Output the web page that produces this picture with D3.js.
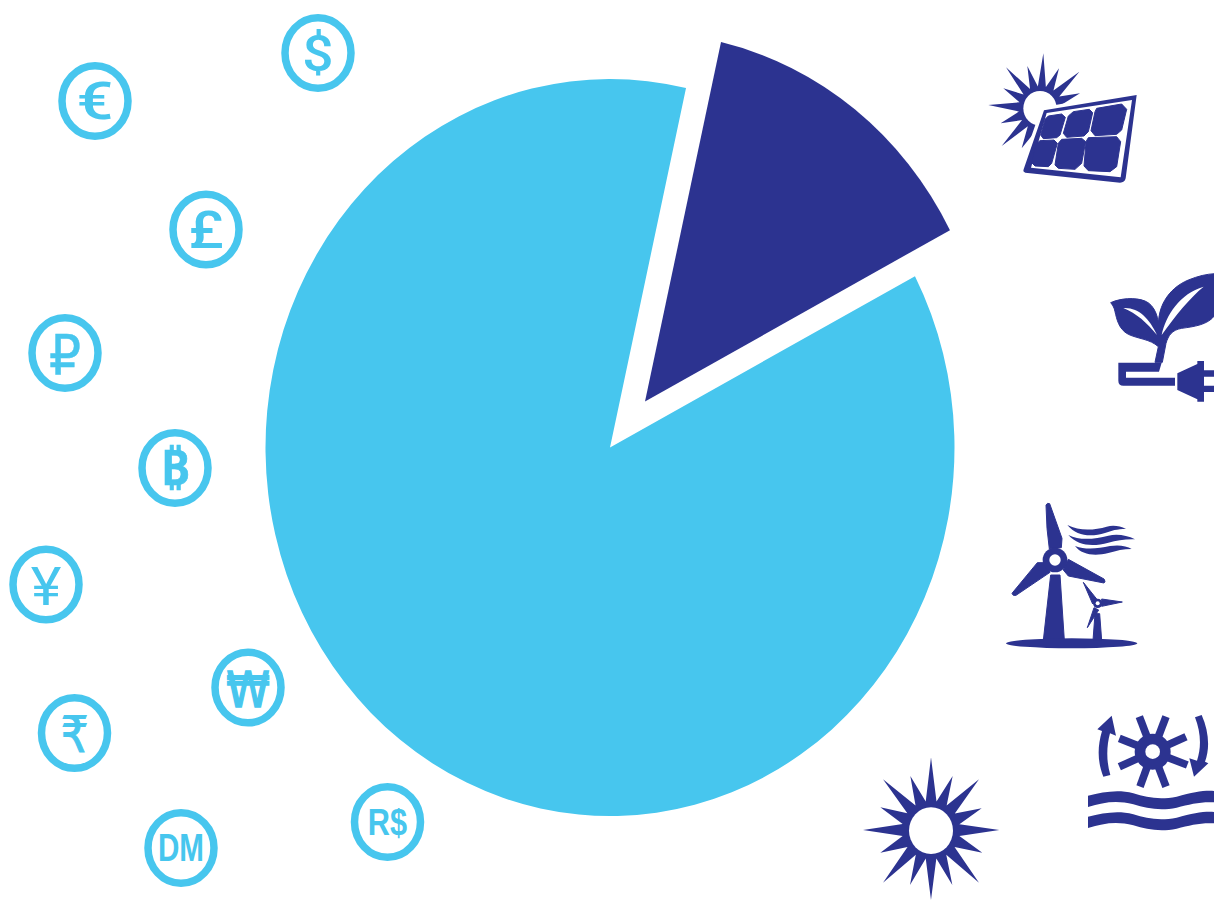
<!DOCTYPE html>
<html><head><meta charset="utf-8">
<script src="https://cdn.jsdelivr.net/npm/d3@7"></script>
<style>html,body{margin:0;padding:0;background:#fff;overflow:hidden}svg{display:block}</style>
</head><body><svg id="c" width="1214" height="900"></svg>
<script>
const categories = ["Renewable energy", "Other investment"];
const values = [13.76, 86.24];
const currencySymbols = ["$","€","£","₽","₿","¥","₩","₹","DM","R$"];
const coinX = [318,95,206,65,175,46,248,74.5,181,387.5];
const coinY = [53,101,229.5,353,468,584.5,687.5,733,848,822];
const LIGHT="#47C6EE", DARK="#2C3390";
const svg=d3.select("#c");

/* pie */
const RX=344.5, RY=368.5;
const pie=d3.pie().sort(null).value(d=>d).startAngle(12.75*Math.PI/180).endAngle((360+12.75)*Math.PI/180);
const arc=d3.arc().innerRadius(0).outerRadius(RX);
const colour=d3.scaleOrdinal().domain(categories).range([DARK,LIGHT]);
const offsets=[[35,-46],[0,0]];
svg.append("g").attr("transform",`translate(610,447.5) scale(1,${RY/RX})`)
  .selectAll("path").data(pie(values)).join("path")
  .attr("d",arc).attr("fill",(d,i)=>colour(categories[i]))
  .attr("transform",(d,i)=>`translate(${offsets[i][0]},${offsets[i][1]/(RY/RX)})`);

/* coins */
const glyphStyle={
 "$":{f:"Roboto",s:50,sx:1.1,dy:17.5,w:500,b:0},
 "€":{f:"Roboto",s:52,sx:1.25,dy:18,w:500,b:0},
 "£":{f:"Roboto",s:52,sx:1.15,dy:18,w:500,b:0},
 "₽":{f:"DejaVu Sans",s:56,sx:.9,dy:21,w:400,b:.5},
 "₿":{f:"Noto Sans",s:48,sx:1.07,dy:17,w:600,b:.6},
 "¥":{f:"Roboto",s:53,sx:1.1,dy:20.5,w:400,b:0},
 "₩":{f:"DejaVu Sans",s:49,sx:.9,dy:19.5,w:400,b:1.4},
 "₹":{f:"DejaVu Sans",s:50,sx:.87,dy:19,w:400,b:1},
 "DM":{f:"Liberation Sans",s:39,sx:.76,dy:13,w:700,b:0},
 "R$":{f:"Liberation Sans",s:37,sx:.83,dy:13,w:700,b:0}
};
const coins=svg.append("g").selectAll("g").data(currencySymbols).join("g")
  .attr("transform",(d,i)=>`translate(${coinX[i]},${coinY[i]})`);
coins.append("ellipse").attr("rx",33).attr("ry",35.3).attr("fill","#fff").attr("stroke",LIGHT).attr("stroke-width",7.5);
coins.append("text").text(d=>d).attr("text-anchor","middle").attr("fill",LIGHT)
  .attr("stroke",LIGHT).attr("stroke-width",d=>glyphStyle[d].b)
  .attr("font-family",d=>`'${glyphStyle[d].f}', 'DejaVu Sans', 'Noto Sans'`)
  .attr("font-size",d=>glyphStyle[d].s).attr("font-weight",d=>glyphStyle[d].w)
  .attr("transform",d=>`translate(0,${glyphStyle[d].dy}) scale(${glyphStyle[d].sx},1)`);

/* icons: drawn in 3x local coordinates */
function icon(x,y){return svg.append("g").attr("transform",`translate(${x},${y}) scale(${1/3})`).attr("fill",DARK);}
function fat(g,d){return g.append("path").attr("d",d).attr("stroke",DARK).attr("stroke-width",3).attr("stroke-linejoin","round");}
function star(g,cx,cy,tips,valley){
  const pts=[];const n=tips.length;
  const ang=tips.map(t=>Math.atan2(t[1]-cy,t[0]-cx));
  tips.forEach((t,i)=>{pts.push(t);let a=ang[i],b=ang[(i+1)%n];if(b<a)b+=2*Math.PI;const m=(a+b)/2;pts.push([cx+valley*Math.cos(m),cy+valley*Math.sin(m)]);});
  g.append("path").attr("d",d3.line()(pts)+"Z");
}
/* large sun */
const s1=icon(855,750);
star(s1,228,240,[[228,22],[293,78],[372,88],[380,175],[433,240],[382,308],[372,398],[292,405],[228,450],[165,405],[84,398],[76,308],[24,240],[76,172],[84,88],[166,78]],87);
s1.append("ellipse").attr("cx",228).attr("cy",242).attr("rx",66).attr("ry",70).attr("fill","#fff");

/* solar panel */
const s2=icon(980,40);
star(s2,182,205,[[190,40],[237,85],[298,95],[300,160],[330,205],[300,260],[240,320],[190,340],[125,325],[65,318],[62,250],[25,195],[70,145],[78,82],[142,78]],66);
s2.append("ellipse").attr("cx",180).attr("cy",205).attr("rx",50).attr("ry",52).attr("fill","#fff");
s2.append("path").attr("d","M195,215L465,167L430,425L133,392Z").attr("fill","#fff").attr("stroke","#fff").attr("stroke-width",28).attr("stroke-linejoin","round");
s2.append("path").attr("d","M192,211L470,165L437,415Q434,428 420,428L136,398Q128,396 131,388ZM200,219L153,383L422,412L456,180Z").attr("fill-rule","evenodd");
["M205,228L245,222L256,232L240,285L230,293L190,296L182,285L195,238Z",
 "M280,215L328,208L338,218L325,275L312,288L260,292L250,280L265,228Z",
 "M350,205L425,192L440,208L425,270L410,283L345,287L333,272L345,215Z",
 "M180,302L222,300L232,310L215,370L205,380L165,378L155,368L168,312Z",
 "M245,298L305,295L317,305L305,370L285,388L235,385L225,375L235,310Z",
 "M325,293L410,290L422,305L410,380L390,395L325,392L312,378L318,305Z"].forEach(d=>fat(s2,d));

/* plant and plug */
const s3=icon(1100,265);
fat(s3,"M178,205C165,130 205,70 265,45C295,33 320,27 345,26L345,150C325,180 280,185 245,190C215,195 205,212 198,235L187,292L165,292L175,245C150,222 115,222 85,208C55,192 50,160 45,140C42,125 36,118 32,113C60,100 105,96 135,108C165,120 178,160 178,205Z");
s3.append("path").attr("d","M185,210C198,150 240,85 311,65C268,100 228,150 185,210Z").attr("fill","#fff");
s3.append("path").attr("d","M70,129C115,126 148,160 171,210C140,172 110,146 70,129Z").attr("fill","#fff");
s3.append("path").attr("d","M55,293L185,293L177,320L78,320L78,338L225,338L225,362L70,362Q55,362 55,347Z");
s3.append("path").attr("d","M232,325L292,297L292,288L312,288L312,316L345,316L345,335L312,335L312,362L345,362L345,381L312,381L312,410L292,410L292,403L232,375Z");

/* wind turbines */
const s4=icon(1000,495);
fat(s4,"M138,30Q142,22 149,26L186,130L184,158L148,162L141,100Z");
fat(s4,"M205,193L312,252Q318,260 312,264L205,243L190,225Z");
fat(s4,"M112,203L135,203L150,232L48,301Q38,304 36,295Z");
fat(s4,"M152,240L180,240L193,436L130,436Z");
s4.append("ellipse").attr("cx",215).attr("cy",445).attr("rx",197).attr("ry",15);
s4.append("circle").attr("cx",165).attr("cy",195).attr("r",37);
s4.append("circle").attr("cx",165).attr("cy",195).attr("r",17).attr("fill","#fff");
fat(s4,"M250,262L290,312L278,327Z");
fat(s4,"M305,312L367,321L305,334Z");
fat(s4,"M262,398L282,338L296,345Z");
fat(s4,"M285,356L299,356L305,436L279,436Z");
s4.append("circle").attr("cx",293).attr("cy",325).attr("r",14);
s4.append("circle").attr("cx",293).attr("cy",325).attr("r",6).attr("fill","#fff");
["M202,90C240,110 285,105 320,95C340,90 360,93 378,102C350,102 335,107 315,114C275,126 230,125 202,90Z",
 "M205,120C240,138 285,132 325,122C350,116 380,120 405,133C375,132 350,137 325,143C280,155 235,154 205,120Z",
 "M225,153C260,166 295,160 330,153C355,149 380,152 395,162C370,162 350,167 325,174C285,184 245,180 225,153Z"
].forEach(d=>s4.append("path").attr("d",d));

/* hydro */
const s5=icon(1080,705);
const tips=[[178,35],[258,35],[318,95],[322,180],[258,245],[180,245],[118,185],[118,100]];
tips.forEach(t=>s5.append("line").attr("x1",218).attr("y1",140).attr("x2",t[0]).attr("y2",t[1]).attr("stroke",DARK).attr("stroke-width",23));
s5.append("circle").attr("cx",218).attr("cy",140).attr("r",54);
s5.append("circle").attr("cx",218).attr("cy",140).attr("r",22).attr("fill","#fff");
s5.append("path").attr("d","M70,215C52,170 52,125 66,78L52,73L95,32L108,92L90,85C79,125 79,170 91,210Z");
s5.append("path").attr("d","M345,37L365,30C387,80 390,130 375,170L385,175L342,215L328,160L351,167C365,125 362,80 345,37Z");
const wave="M24,272C70,262 110,252 160,265C200,278 240,285 290,275C340,262 370,256 402,258L402,292C360,290 330,298 290,308C240,318 200,310 160,298C110,285 70,292 24,306Z";
s5.append("path").attr("d",wave);
s5.append("path").attr("d",wave).attr("transform","translate(0,63)");
</script></body></html>
